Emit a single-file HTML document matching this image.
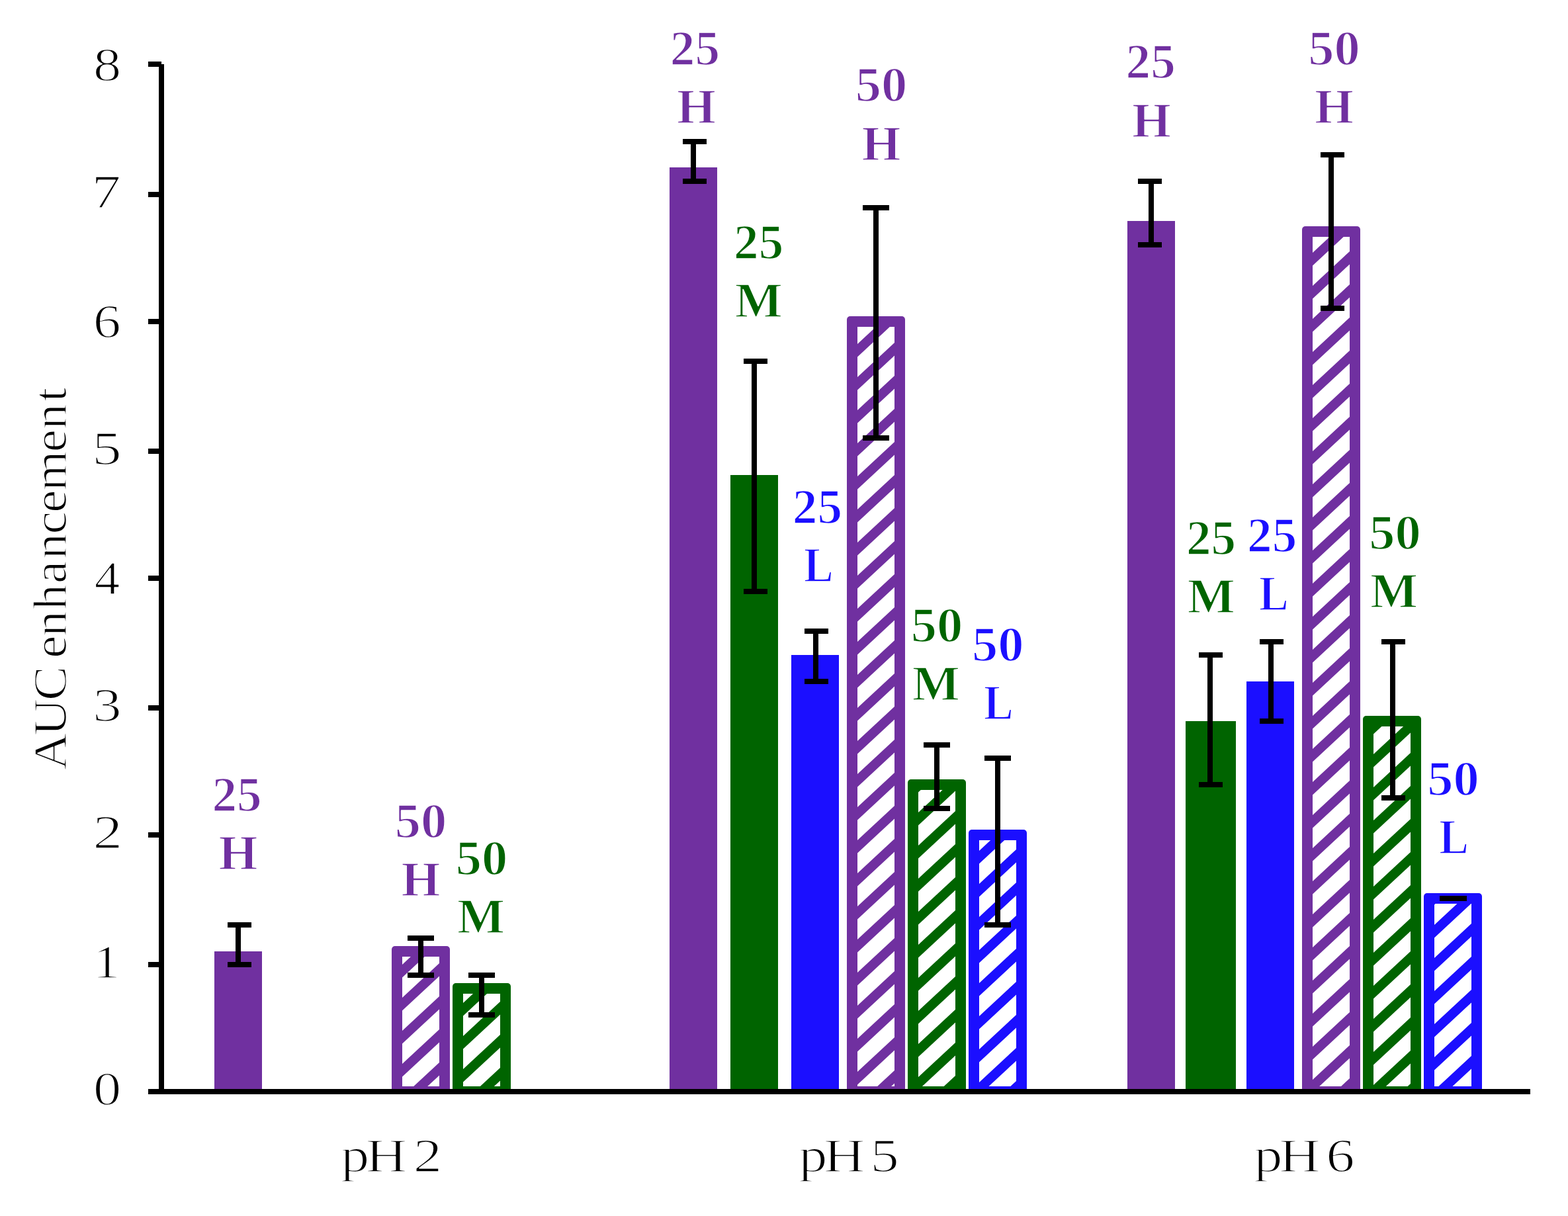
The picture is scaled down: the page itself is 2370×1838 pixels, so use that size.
<!DOCTYPE html>
<html lang="en"><head><meta charset="utf-8"><title>AUC enhancement</title>
<style>
html,body{margin:0;padding:0;background:#fff;}
body{width:2370px;height:1838px;overflow:hidden;}
svg{display:block;}
text{font-family:"Liberation Serif","DejaVu Serif",serif;stroke:#fff;stroke-width:1.6px;stroke-linejoin:round;}
</style></head><body>
<svg width="2370" height="1838" viewBox="0 0 2370 1838">
<defs>
<clipPath id="plot"><rect x="0" y="0" width="2370" height="1650"/></clipPath>
</defs>
<rect width="2370" height="1838" fill="#fff"/>
<g shape-rendering="crispEdges">
<rect x="324" y="1438" width="72" height="208" fill="#7030A0"/>
<rect x="1012" y="253" width="72" height="1393" fill="#7030A0"/>
<rect x="1104" y="718" width="72" height="928" fill="#006400"/>
<rect x="1196" y="990" width="72" height="656" fill="#1B0FFF"/>
<rect x="1704" y="334" width="72" height="1312" fill="#7030A0"/>
<rect x="1792" y="1090" width="76" height="556" fill="#006400"/>
<rect x="1884" y="1030" width="72" height="616" fill="#1B0FFF"/>
</g>
<defs><clipPath id="c1"><rect x="608" y="1446" width="56" height="196"/></clipPath><clipPath id="c2"><rect x="700" y="1502" width="56" height="140"/></clipPath><clipPath id="c6"><rect x="1296" y="494" width="56" height="1148"/></clipPath><clipPath id="c7"><rect x="1388" y="1194" width="56" height="448"/></clipPath><clipPath id="c8"><rect x="1480" y="1270" width="56" height="372"/></clipPath><clipPath id="c12"><rect x="1984" y="358" width="56" height="1284"/></clipPath><clipPath id="c13"><rect x="2076" y="1098" width="56" height="544"/></clipPath><clipPath id="c14"><rect x="2168" y="1366" width="56" height="276"/></clipPath></defs>
<g clip-path="url(#plot)">
<rect x="592" y="1430" width="88" height="246" rx="5" ry="5" fill="#7030A0"/>
<rect x="608" y="1446" width="56" height="196" fill="#fff"/>
<path clip-path="url(#c1)" fill="#7030A0" d="M608,1358 L664,1305.92 L664,1325.42 L608,1377.5 Z M608,1408 L664,1355.92 L664,1375.42 L608,1427.5 Z M608,1458 L664,1405.92 L664,1425.42 L608,1477.5 Z M608,1508 L664,1455.92 L664,1475.42 L608,1527.5 Z M608,1558 L664,1505.92 L664,1525.42 L608,1577.5 Z M608,1608 L664,1555.92 L664,1575.42 L608,1627.5 Z M608,1658 L664,1605.92 L664,1625.42 L608,1677.5 Z M608,1708 L664,1655.92 L664,1675.42 L608,1727.5 Z M608,1758 L664,1705.92 L664,1725.42 L608,1777.5 Z"/>
<rect x="684" y="1486" width="88" height="190" rx="5" ry="5" fill="#006400"/>
<rect x="700" y="1502" width="56" height="140" fill="#fff"/>
<path clip-path="url(#c2)" fill="#006400" d="M700,1416 L756,1363.92 L756,1383.42 L700,1435.5 Z M700,1466 L756,1413.92 L756,1433.42 L700,1485.5 Z M700,1516 L756,1463.92 L756,1483.42 L700,1535.5 Z M700,1566 L756,1513.92 L756,1533.42 L700,1585.5 Z M700,1616 L756,1563.92 L756,1583.42 L700,1635.5 Z M700,1666 L756,1613.92 L756,1633.42 L700,1685.5 Z M700,1716 L756,1663.92 L756,1683.42 L700,1735.5 Z M700,1766 L756,1713.92 L756,1733.42 L700,1785.5 Z"/>
<rect x="1280" y="478" width="88" height="1198" rx="5" ry="5" fill="#7030A0"/>
<rect x="1296" y="494" width="56" height="1148" fill="#fff"/>
<path clip-path="url(#c6)" fill="#7030A0" d="M1296,420 L1352,367.92 L1352,387.42 L1296,439.5 Z M1296,470 L1352,417.92 L1352,437.42 L1296,489.5 Z M1296,520 L1352,467.92 L1352,487.42 L1296,539.5 Z M1296,570 L1352,517.92 L1352,537.42 L1296,589.5 Z M1296,620 L1352,567.92 L1352,587.42 L1296,639.5 Z M1296,670 L1352,617.92 L1352,637.42 L1296,689.5 Z M1296,720 L1352,667.92 L1352,687.42 L1296,739.5 Z M1296,770 L1352,717.92 L1352,737.42 L1296,789.5 Z M1296,820 L1352,767.92 L1352,787.42 L1296,839.5 Z M1296,870 L1352,817.92 L1352,837.42 L1296,889.5 Z M1296,920 L1352,867.92 L1352,887.42 L1296,939.5 Z M1296,970 L1352,917.92 L1352,937.42 L1296,989.5 Z M1296,1020 L1352,967.92 L1352,987.42 L1296,1039.5 Z M1296,1070 L1352,1017.92 L1352,1037.42 L1296,1089.5 Z M1296,1120 L1352,1067.92 L1352,1087.42 L1296,1139.5 Z M1296,1170 L1352,1117.92 L1352,1137.42 L1296,1189.5 Z M1296,1220 L1352,1167.92 L1352,1187.42 L1296,1239.5 Z M1296,1270 L1352,1217.92 L1352,1237.42 L1296,1289.5 Z M1296,1320 L1352,1267.92 L1352,1287.42 L1296,1339.5 Z M1296,1370 L1352,1317.92 L1352,1337.42 L1296,1389.5 Z M1296,1420 L1352,1367.92 L1352,1387.42 L1296,1439.5 Z M1296,1470 L1352,1417.92 L1352,1437.42 L1296,1489.5 Z M1296,1520 L1352,1467.92 L1352,1487.42 L1296,1539.5 Z M1296,1570 L1352,1517.92 L1352,1537.42 L1296,1589.5 Z M1296,1620 L1352,1567.92 L1352,1587.42 L1296,1639.5 Z M1296,1670 L1352,1617.92 L1352,1637.42 L1296,1689.5 Z M1296,1720 L1352,1667.92 L1352,1687.42 L1296,1739.5 Z M1296,1770 L1352,1717.92 L1352,1737.42 L1296,1789.5 Z"/>
<rect x="1372" y="1178" width="88" height="498" rx="5" ry="5" fill="#006400"/>
<rect x="1388" y="1194" width="56" height="448" fill="#fff"/>
<path clip-path="url(#c7)" fill="#006400" d="M1388,1078 L1444,1025.92 L1444,1045.42 L1388,1097.5 Z M1388,1128 L1444,1075.92 L1444,1095.42 L1388,1147.5 Z M1388,1178 L1444,1125.92 L1444,1145.42 L1388,1197.5 Z M1388,1228 L1444,1175.92 L1444,1195.42 L1388,1247.5 Z M1388,1278 L1444,1225.92 L1444,1245.42 L1388,1297.5 Z M1388,1328 L1444,1275.92 L1444,1295.42 L1388,1347.5 Z M1388,1378 L1444,1325.92 L1444,1345.42 L1388,1397.5 Z M1388,1428 L1444,1375.92 L1444,1395.42 L1388,1447.5 Z M1388,1478 L1444,1425.92 L1444,1445.42 L1388,1497.5 Z M1388,1528 L1444,1475.92 L1444,1495.42 L1388,1547.5 Z M1388,1578 L1444,1525.92 L1444,1545.42 L1388,1597.5 Z M1388,1628 L1444,1575.92 L1444,1595.42 L1388,1647.5 Z M1388,1678 L1444,1625.92 L1444,1645.42 L1388,1697.5 Z M1388,1728 L1444,1675.92 L1444,1695.42 L1388,1747.5 Z M1388,1778 L1444,1725.92 L1444,1745.42 L1388,1797.5 Z"/>
<rect x="1464" y="1254" width="88" height="422" rx="5" ry="5" fill="#1B0FFF"/>
<rect x="1480" y="1270" width="56" height="372" fill="#fff"/>
<path clip-path="url(#c8)" fill="#1B0FFF" d="M1480,1186 L1536,1133.92 L1536,1153.42 L1480,1205.5 Z M1480,1236 L1536,1183.92 L1536,1203.42 L1480,1255.5 Z M1480,1286 L1536,1233.92 L1536,1253.42 L1480,1305.5 Z M1480,1336 L1536,1283.92 L1536,1303.42 L1480,1355.5 Z M1480,1386 L1536,1333.92 L1536,1353.42 L1480,1405.5 Z M1480,1436 L1536,1383.92 L1536,1403.42 L1480,1455.5 Z M1480,1486 L1536,1433.92 L1536,1453.42 L1480,1505.5 Z M1480,1536 L1536,1483.92 L1536,1503.42 L1480,1555.5 Z M1480,1586 L1536,1533.92 L1536,1553.42 L1480,1605.5 Z M1480,1636 L1536,1583.92 L1536,1603.42 L1480,1655.5 Z M1480,1686 L1536,1633.92 L1536,1653.42 L1480,1705.5 Z M1480,1736 L1536,1683.92 L1536,1703.42 L1480,1755.5 Z M1480,1786 L1536,1733.92 L1536,1753.42 L1480,1805.5 Z"/>
<rect x="1968" y="342" width="88" height="1334" rx="5" ry="5" fill="#7030A0"/>
<rect x="1984" y="358" width="56" height="1284" fill="#fff"/>
<path clip-path="url(#c12)" fill="#7030A0" d="M1984,282 L2040,229.92 L2040,249.42 L1984,301.5 Z M1984,332 L2040,279.92 L2040,299.42 L1984,351.5 Z M1984,382 L2040,329.92 L2040,349.42 L1984,401.5 Z M1984,432 L2040,379.92 L2040,399.42 L1984,451.5 Z M1984,482 L2040,429.92 L2040,449.42 L1984,501.5 Z M1984,532 L2040,479.92 L2040,499.42 L1984,551.5 Z M1984,582 L2040,529.92 L2040,549.42 L1984,601.5 Z M1984,632 L2040,579.92 L2040,599.42 L1984,651.5 Z M1984,682 L2040,629.92 L2040,649.42 L1984,701.5 Z M1984,732 L2040,679.92 L2040,699.42 L1984,751.5 Z M1984,782 L2040,729.92 L2040,749.42 L1984,801.5 Z M1984,832 L2040,779.92 L2040,799.42 L1984,851.5 Z M1984,882 L2040,829.92 L2040,849.42 L1984,901.5 Z M1984,932 L2040,879.92 L2040,899.42 L1984,951.5 Z M1984,982 L2040,929.92 L2040,949.42 L1984,1001.5 Z M1984,1032 L2040,979.92 L2040,999.42 L1984,1051.5 Z M1984,1082 L2040,1029.92 L2040,1049.42 L1984,1101.5 Z M1984,1132 L2040,1079.92 L2040,1099.42 L1984,1151.5 Z M1984,1182 L2040,1129.92 L2040,1149.42 L1984,1201.5 Z M1984,1232 L2040,1179.92 L2040,1199.42 L1984,1251.5 Z M1984,1282 L2040,1229.92 L2040,1249.42 L1984,1301.5 Z M1984,1332 L2040,1279.92 L2040,1299.42 L1984,1351.5 Z M1984,1382 L2040,1329.92 L2040,1349.42 L1984,1401.5 Z M1984,1432 L2040,1379.92 L2040,1399.42 L1984,1451.5 Z M1984,1482 L2040,1429.92 L2040,1449.42 L1984,1501.5 Z M1984,1532 L2040,1479.92 L2040,1499.42 L1984,1551.5 Z M1984,1582 L2040,1529.92 L2040,1549.42 L1984,1601.5 Z M1984,1632 L2040,1579.92 L2040,1599.42 L1984,1651.5 Z M1984,1682 L2040,1629.92 L2040,1649.42 L1984,1701.5 Z M1984,1732 L2040,1679.92 L2040,1699.42 L1984,1751.5 Z M1984,1782 L2040,1729.92 L2040,1749.42 L1984,1801.5 Z"/>
<rect x="2060" y="1082" width="88" height="594" rx="5" ry="5" fill="#006400"/>
<rect x="2076" y="1098" width="56" height="544" fill="#fff"/>
<path clip-path="url(#c13)" fill="#006400" d="M2076,990 L2132,937.92 L2132,957.42 L2076,1009.5 Z M2076,1040 L2132,987.92 L2132,1007.42 L2076,1059.5 Z M2076,1090 L2132,1037.92 L2132,1057.42 L2076,1109.5 Z M2076,1140 L2132,1087.92 L2132,1107.42 L2076,1159.5 Z M2076,1190 L2132,1137.92 L2132,1157.42 L2076,1209.5 Z M2076,1240 L2132,1187.92 L2132,1207.42 L2076,1259.5 Z M2076,1290 L2132,1237.92 L2132,1257.42 L2076,1309.5 Z M2076,1340 L2132,1287.92 L2132,1307.42 L2076,1359.5 Z M2076,1390 L2132,1337.92 L2132,1357.42 L2076,1409.5 Z M2076,1440 L2132,1387.92 L2132,1407.42 L2076,1459.5 Z M2076,1490 L2132,1437.92 L2132,1457.42 L2076,1509.5 Z M2076,1540 L2132,1487.92 L2132,1507.42 L2076,1559.5 Z M2076,1590 L2132,1537.92 L2132,1557.42 L2076,1609.5 Z M2076,1640 L2132,1587.92 L2132,1607.42 L2076,1659.5 Z M2076,1690 L2132,1637.92 L2132,1657.42 L2076,1709.5 Z M2076,1740 L2132,1687.92 L2132,1707.42 L2076,1759.5 Z M2076,1790 L2132,1737.92 L2132,1757.42 L2076,1809.5 Z"/>
<rect x="2152" y="1350" width="88" height="326" rx="5" ry="5" fill="#1B0FFF"/>
<rect x="2168" y="1366" width="56" height="276" fill="#fff"/>
<path clip-path="url(#c14)" fill="#1B0FFF" d="M2168,1248 L2224,1195.92 L2224,1215.42 L2168,1267.5 Z M2168,1298 L2224,1245.92 L2224,1265.42 L2168,1317.5 Z M2168,1348 L2224,1295.92 L2224,1315.42 L2168,1367.5 Z M2168,1398 L2224,1345.92 L2224,1365.42 L2168,1417.5 Z M2168,1448 L2224,1395.92 L2224,1415.42 L2168,1467.5 Z M2168,1498 L2224,1445.92 L2224,1465.42 L2168,1517.5 Z M2168,1548 L2224,1495.92 L2224,1515.42 L2168,1567.5 Z M2168,1598 L2224,1545.92 L2224,1565.42 L2168,1617.5 Z M2168,1648 L2224,1595.92 L2224,1615.42 L2168,1667.5 Z M2168,1698 L2224,1645.92 L2224,1665.42 L2168,1717.5 Z M2168,1748 L2224,1695.92 L2224,1715.42 L2168,1767.5 Z"/>
</g>
<g fill="#000" shape-rendering="crispEdges">
<rect x="344" y="1394" width="36" height="8"/>
<rect x="356" y="1394" width="8" height="68"/>
<rect x="344" y="1454" width="36" height="8"/>
<rect x="616" y="1414" width="40" height="8"/>
<rect x="632" y="1414" width="8" height="64"/>
<rect x="616" y="1470" width="40" height="8"/>
<rect x="708" y="1470" width="40" height="8"/>
<rect x="724" y="1470" width="8" height="68"/>
<rect x="708" y="1530" width="40" height="8"/>
<rect x="1032" y="210" width="36" height="8"/>
<rect x="1044" y="210" width="8" height="68"/>
<rect x="1032" y="270" width="36" height="8"/>
<rect x="1124" y="542" width="36" height="8"/>
<rect x="1136" y="542" width="8" height="356"/>
<rect x="1124" y="890" width="36" height="8"/>
<rect x="1216" y="950" width="36" height="8"/>
<rect x="1229" y="950" width="8" height="84"/>
<rect x="1216" y="1026" width="36" height="8"/>
<rect x="1304" y="310" width="40" height="8"/>
<rect x="1320" y="310" width="8" height="356"/>
<rect x="1304" y="658" width="40" height="8"/>
<rect x="1396" y="1122" width="40" height="8"/>
<rect x="1412" y="1122" width="8" height="104"/>
<rect x="1396" y="1218" width="40" height="8"/>
<rect x="1488" y="1142" width="40" height="8"/>
<rect x="1504" y="1142" width="8" height="260"/>
<rect x="1488" y="1394" width="40" height="8"/>
<rect x="1720" y="270" width="36" height="8"/>
<rect x="1736" y="270" width="8" height="104"/>
<rect x="1720" y="366" width="36" height="8"/>
<rect x="1812" y="986" width="36" height="8"/>
<rect x="1825" y="986" width="8" height="204"/>
<rect x="1812" y="1182" width="36" height="8"/>
<rect x="1904" y="966" width="36" height="8"/>
<rect x="1917" y="966" width="8" height="128"/>
<rect x="1904" y="1086" width="36" height="8"/>
<rect x="1996" y="230" width="36" height="8"/>
<rect x="2008" y="230" width="8" height="240"/>
<rect x="1996" y="462" width="36" height="8"/>
<rect x="2088" y="966" width="36" height="8"/>
<rect x="2101" y="966" width="8" height="244"/>
<rect x="2088" y="1202" width="36" height="8"/>
<rect x="2176" y="1354" width="41" height="8"/>
</g>
<g fill="#000" shape-rendering="crispEdges">
<rect x="240" y="97" width="8" height="1557"/>
<rect x="224" y="1646" width="2088.5" height="8"/>
<rect x="224" y="1454" width="16" height="8"/>
<rect x="224" y="1258" width="16" height="8"/>
<rect x="224" y="1066" width="16" height="8"/>
<rect x="224" y="870" width="16" height="8"/>
<rect x="224" y="678" width="16" height="8"/>
<rect x="224" y="482" width="16" height="8"/>
<rect x="224" y="290" width="16" height="8"/>
<rect x="224" y="93" width="20" height="8"/>
</g>
<g>
<text transform="translate(141.09,1669.60) scale(1.1894,1.0200)" font-size="71" fill="#000">0</text>
<text transform="translate(140.36,1477.60) scale(1.1680,1.0200)" font-size="71" fill="#000">1</text>
<text transform="translate(140.41,1281.60) scale(1.2561,1.0200)" font-size="71" fill="#000">2</text>
<text transform="translate(140.15,1089.60) scale(1.2218,1.0200)" font-size="71" fill="#000">3</text>
<text transform="translate(142.78,897.60) scale(1.0848,1.0200)" font-size="71" fill="#000">4</text>
<text transform="translate(139.17,701.60) scale(1.2517,1.0200)" font-size="71" fill="#000">5</text>
<text transform="translate(140.64,509.60) scale(1.1815,1.0200)" font-size="71" fill="#000">6</text>
<text transform="translate(138.46,313.60) scale(1.2431,1.0200)" font-size="71" fill="#000">7</text>
<text transform="translate(141.09,121.60) scale(1.1894,1.0200)" font-size="71" fill="#000">8</text>
</g>
<g>
<text transform="translate(516.30,1770.60) scale(1.22,1.02)" x="-1.04 29.93 59.43 88.92" y="0" font-size="71" fill="#000">pH 2</text>
<text transform="translate(1208.30,1770.60) scale(1.22,1.02)" x="-0.79 30.06 58.98 87.91" y="0" font-size="71" fill="#000">pH 5</text>
<text transform="translate(1896.30,1770.60) scale(1.22,1.02)" x="-0.79 30.22 59.39 88.55" y="0" font-size="71" fill="#000">pH 6</text>
</g>
<text transform="translate(100.00,1161.50) rotate(-90) scale(1.1,1.02)" x="-2.57 44.80 93.21 122.27 151.32 181.09 217.80 253.95 287.45 321.73 351.32 381.29 434.50 465.64 503.86" y="0" font-size="71" fill="#000">AUC enhancement</text>
<g>
<text transform="translate(320.46,1225.60) scale(1.0452,1.0200)" font-size="72" font-weight="bold" fill="#7030A0">25</text>
<text transform="translate(330.49,1313.60) scale(1.0541,1.0200)" font-size="72" font-weight="bold" fill="#7030A0">H</text>
<text transform="translate(596.84,1265.60) scale(1.0904,1.0200)" font-size="72" font-weight="bold" fill="#7030A0">50</text>
<text transform="translate(606.49,1353.60) scale(1.0541,1.0200)" font-size="72" font-weight="bold" fill="#7030A0">H</text>
<text transform="translate(688.74,1321.60) scale(1.0904,1.0200)" font-size="72" font-weight="bold" fill="#006400">50</text>
<text transform="translate(690.88,1409.60) scale(1.0618,1.0200)" font-size="72" font-weight="bold" fill="#006400">M</text>
<text transform="translate(1012.76,97.60) scale(1.0452,1.0200)" font-size="72" font-weight="bold" fill="#7030A0">25</text>
<text transform="translate(1022.89,185.60) scale(1.0541,1.0200)" font-size="72" font-weight="bold" fill="#7030A0">H</text>
<text transform="translate(1109.06,390.60) scale(1.0452,1.0200)" font-size="72" font-weight="bold" fill="#006400">25</text>
<text transform="translate(1110.68,478.60) scale(1.0618,1.0200)" font-size="72" font-weight="bold" fill="#006400">M</text>
<text transform="translate(1197.76,790.60) scale(1.0452,1.0200)" font-size="72" font-weight="bold" fill="#1B0FFF">25</text>
<text transform="translate(1214.99,878.60) scale(0.9269,1.0200)" font-size="72" font-weight="bold" fill="#1B0FFF">L</text>
<text transform="translate(1292.64,152.60) scale(1.0904,1.0200)" font-size="72" font-weight="bold" fill="#7030A0">50</text>
<text transform="translate(1302.49,241.60) scale(1.0541,1.0200)" font-size="72" font-weight="bold" fill="#7030A0">H</text>
<text transform="translate(1376.84,969.60) scale(1.0904,1.0200)" font-size="72" font-weight="bold" fill="#006400">50</text>
<text transform="translate(1378.68,1057.60) scale(1.0618,1.0200)" font-size="72" font-weight="bold" fill="#006400">M</text>
<text transform="translate(1468.94,998.60) scale(1.0904,1.0200)" font-size="72" font-weight="bold" fill="#1B0FFF">50</text>
<text transform="translate(1486.89,1086.60) scale(0.9269,1.0200)" font-size="72" font-weight="bold" fill="#1B0FFF">L</text>
<text transform="translate(1701.56,117.60) scale(1.0452,1.0200)" font-size="72" font-weight="bold" fill="#7030A0">25</text>
<text transform="translate(1710.89,206.60) scale(1.0541,1.0200)" font-size="72" font-weight="bold" fill="#7030A0">H</text>
<text transform="translate(1792.96,837.60) scale(1.0452,1.0200)" font-size="72" font-weight="bold" fill="#006400">25</text>
<text transform="translate(1794.78,925.60) scale(1.0618,1.0200)" font-size="72" font-weight="bold" fill="#006400">M</text>
<text transform="translate(1885.06,833.60) scale(1.0452,1.0200)" font-size="72" font-weight="bold" fill="#1B0FFF">25</text>
<text transform="translate(1902.99,921.60) scale(0.9269,1.0200)" font-size="72" font-weight="bold" fill="#1B0FFF">L</text>
<text transform="translate(1977.24,97.60) scale(1.0904,1.0200)" font-size="72" font-weight="bold" fill="#7030A0">50</text>
<text transform="translate(1986.99,185.60) scale(1.0541,1.0200)" font-size="72" font-weight="bold" fill="#7030A0">H</text>
<text transform="translate(2069.14,830.10) scale(1.0904,1.0200)" font-size="72" font-weight="bold" fill="#006400">50</text>
<text transform="translate(2070.88,918.10) scale(1.0618,1.0200)" font-size="72" font-weight="bold" fill="#006400">M</text>
<text transform="translate(2157.34,1201.60) scale(1.0904,1.0200)" font-size="72" font-weight="bold" fill="#1B0FFF">50</text>
<text transform="translate(2175.29,1290.10) scale(0.9269,1.0200)" font-size="72" font-weight="bold" fill="#1B0FFF">L</text>
</g>
</svg>
</body></html>
